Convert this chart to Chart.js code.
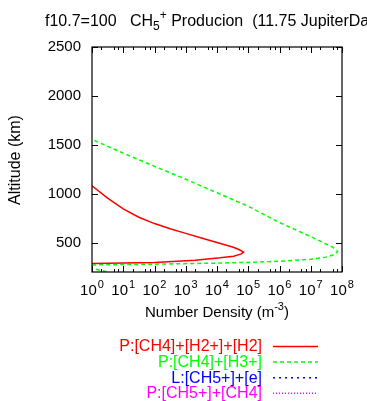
<!DOCTYPE html>
<html><head><meta charset="utf-8">
<script src="https://cdn.jsdelivr.net/npm/chart.js@4/dist/chart.umd.min.js"></script>
<style>html,body{margin:0;padding:0;background:#fff;overflow:hidden}#wrap{width:367px;height:401px;position:relative}</style>
</head><body><div id="wrap"><canvas id="c" width="367" height="401"></canvas></div>
<script>
// ---- data ----
const seriesLabels = ['P:[CH4]+[H2+]+[H2]', 'P:[CH4]+[H3+]', 'L:[CH5+]+[e]', 'P:[CH5+]+[CH4]'];
const seriesColors = ['#ff0000', '#00ff00', '#0000ff', '#ff00ff'];
const seriesDash = [[], [4, 3], [2, 4], [1, 2]];

// P:[CH4]+[H2+]+[H2]  (number density m^-3, altitude km)
const redDensity  = [0.5, 1, 3.16, 10, 31.6, 100, 316, 1000, 3160, 10000, 31600, 50000, 71000, 60000, 34000, 12600, 2000, 100, 10, 1, 0.5];
const redAltitude = [1120, 1080, 955, 845, 760, 695, 642, 595, 548, 502, 455, 430, 403, 385, 362, 345, 320, 298, 291, 287, 285];

// P:[CH4]+[H3+]
const greenDensity  = [0.3, 1, 10, 100, 1000, 1e4, 1e5, 1e6, 1e7, 2.5e7, 5e7, 7.2e7, 6e7, 3e7, 1e7, 1e6, 1e5, 1e4, 100, 1, 0.5, 0.5, 3.2];
const greenAltitude = [1640, 1555, 1415, 1280, 1148, 1010, 872, 705, 562, 500, 455, 410, 380, 352, 330, 310, 298, 291, 280, 272, 266, 260, 200];

// L:[CH5+]+[e]  and  P:[CH5+]+[CH4]  (no visible values in range)
const blueDensity = [], blueAltitude = [];
const magentaDensity = [], magentaAltitude = [];

const yTicks = [500, 1000, 1500, 2000, 2500];
const xTickValues = [1, 10, 100, 1000, 1e4, 1e5, 1e6, 1e7, 1e8];
const xTickExponents = ['0', '1', '2', '3', '4', '5', '6', '7', '8'];
const xMinorMultipliers = [2, 5, 7];

const toXY = (xs, ys) => xs.map((x, i) => ({x: x, y: ys[i]}));
const seriesData = [
  toXY(redDensity, redAltitude),
  toXY(greenDensity, greenAltitude),
  toXY(blueDensity, blueAltitude),
  toXY(magentaDensity, magentaAltitude)
];

const FONT = '"Liberation Sans", Arial, sans-serif';

const decor = {
  id: 'decor',
  afterDraw(chart) {
    const ctx = chart.ctx;
    const a = chart.chartArea;
    const xs = chart.scales.x, ys = chart.scales.y;
    ctx.save();
    // frame
    ctx.strokeStyle = '#000';
    ctx.lineWidth = 1.2;
    ctx.setLineDash([]);
    ctx.strokeRect(a.left, a.top, a.right - a.left, a.bottom - a.top);
    // ticks
    ctx.lineWidth = 1;
    ctx.beginPath();
    xTickValues.forEach((v, i) => {
      const px = Math.round(xs.getPixelForValue(v)) + 0.5;
      ctx.moveTo(px, a.bottom); ctx.lineTo(px, a.bottom - 6);
      ctx.moveTo(px, a.top); ctx.lineTo(px, a.top + 6);
      if (i < xTickValues.length - 1) {
        xMinorMultipliers.forEach(m => {
          const qx = Math.round(xs.getPixelForValue(v * m)) + 0.5;
          ctx.moveTo(qx, a.bottom); ctx.lineTo(qx, a.bottom - 3);
          ctx.moveTo(qx, a.top); ctx.lineTo(qx, a.top + 3);
        });
      }
    });
    yTicks.forEach(v => {
      const py = Math.round(ys.getPixelForValue(v)) + 0.5;
      ctx.moveTo(a.left, py); ctx.lineTo(a.left + 6, py);
      ctx.moveTo(a.right, py); ctx.lineTo(a.right - 6, py);
    });
    ctx.stroke();

    ctx.fillStyle = '#000';
    // x tick labels 10^n
    xTickValues.forEach((v, i) => {
      const px = xs.getPixelForValue(v);
      ctx.font = '15px ' + FONT;
      const w1 = ctx.measureText('10').width;
      ctx.font = '11px ' + FONT;
      const w2 = ctx.measureText(xTickExponents[i]).width;
      const x0 = px - (w1 + w2 + 1) / 2;
      ctx.textAlign = 'left';
      ctx.textBaseline = 'alphabetic';
      ctx.font = '15px ' + FONT;
      ctx.fillText('10', x0, 295);
      ctx.font = '11px ' + FONT;
      ctx.fillText(xTickExponents[i], x0 + w1 + 1, 288);
    });

    // x axis title
    const cx = (a.left + a.right) / 2;
    const p1 = 'Number Density (m', p3 = ')';
    ctx.font = '11px ' + FONT;
    const w2 = ctx.measureText('-3').width;
    ctx.font = '15px ' + FONT;
    const w1 = ctx.measureText(p1).width, w3 = ctx.measureText(p3).width;
    let x0 = cx - (w1 + w2 + w3) / 2;
    ctx.fillText(p1, x0, 317);
    ctx.font = '11px ' + FONT;
    ctx.fillText('-3', x0 + w1, 310);
    ctx.font = '15px ' + FONT;
    ctx.fillText(p3, x0 + w1 + w2, 317);

    // y axis title
    ctx.save();
    ctx.translate(16, 160);
    ctx.rotate(-Math.PI / 2);
    ctx.textAlign = 'center';
    ctx.textBaseline = 'middle';
    ctx.font = '16px ' + FONT;
    ctx.fillText('Altitude (km)', 0, 0);
    ctx.restore();

    // title
    ctx.textAlign = 'left';
    ctx.textBaseline = 'alphabetic';
    let tx = 45;
    const parts = [
      ['f10.7=100   CH', 16, 0],
      ['5', 12, 4],
      ['+', 12, -7],
      [' Producion  (11.75 JupiterDays)', 16, 0]
    ];
    parts.forEach(p => {
      ctx.font = p[1] + 'px ' + FONT;
      ctx.fillText(p[0], tx, 26 + p[2]);
      tx += ctx.measureText(p[0]).width;
    });

    // legend
    chart.data.datasets.forEach((ds, i) => {
      const y = 346 + i * 15.6;
      ctx.font = '16px ' + FONT;
      ctx.fillStyle = ds.borderColor;
      ctx.textAlign = 'right';
      ctx.textBaseline = 'middle';
      ctx.fillText(ds.label, 262, y + 1);
      ctx.strokeStyle = ds.borderColor;
      ctx.lineWidth = 1.5;
      ctx.setLineDash(ds.borderDash);
      ctx.beginPath();
      ctx.moveTo(273, y + 0.5); ctx.lineTo(318, y + 0.5);
      ctx.stroke();
    });
    ctx.restore();
  }
};

new Chart(document.getElementById('c'), {
  type: 'scatter',
  data: {
    datasets: seriesLabels.map((lab, i) => ({
      label: lab,
      data: seriesData[i],
      showLine: true,
      borderColor: seriesColors[i],
      backgroundColor: seriesColors[i],
      borderDash: seriesDash[i],
      borderWidth: 1.5,
      pointRadius: 0,
      fill: false,
      tension: 0
    }))
  },
  options: {
    responsive: false,
    animation: false,
    devicePixelRatio: 1,
    layout: {padding: {left: 0, top: 47, right: 25, bottom: 0}},
    plugins: {legend: {display: false}, title: {display: false}, tooltip: {enabled: false}},
    scales: {
      x: {
        type: 'logarithmic', position: 'bottom', min: 1, max: 1e8,
        grid: {display: false}, border: {display: false},
        ticks: {display: false},
        afterBuildTicks: s => { s.ticks = xTickValues.map(v => ({value: v})); },
        afterFit: s => { s.height = 129; }
      },
      y: {
        type: 'linear', position: 'left', min: 200, max: 2500,
        grid: {display: false, drawTicks: false}, border: {display: false},
        ticks: {color: '#000', font: {size: 15, family: FONT}, padding: 11, callback: v => String(v)},
        afterBuildTicks: s => { s.ticks = yTicks.map(v => ({value: v})); },
        afterFit: s => { s.width = 92; }
      }
    }
  },
  plugins: [decor]
});
</script>
</body></html>
